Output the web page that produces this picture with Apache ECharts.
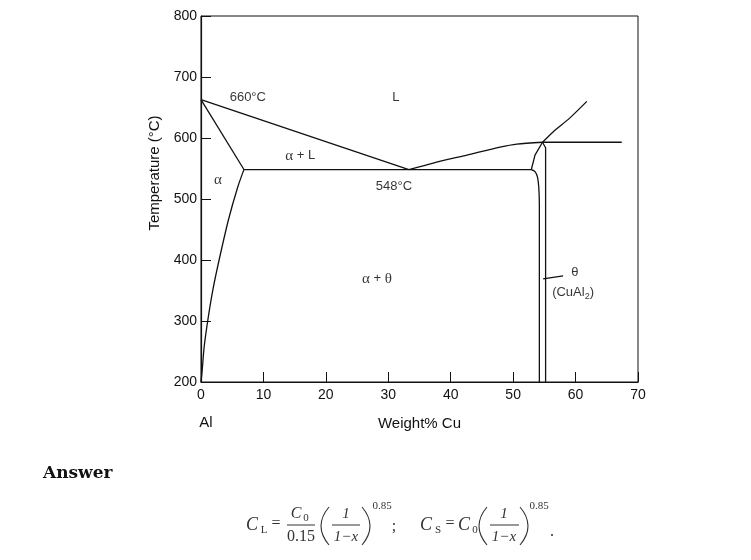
<!DOCTYPE html>
<html>
<head>
<meta charset="utf-8">
<script src="https://cdn.jsdelivr.net/npm/echarts@6/dist/echarts.min.js"></script>
<style>html,body{margin:0;padding:0;background:#fff;}#c{width:751px;height:560px;}</style>
</head>
<body>
<div id="c"></div>
<script>
// ---- data (Weight% Cu, Temperature °C) ----
var xTicks = [0, 10, 20, 30, 40, 50, 60, 70];
var yTicks = [200, 300, 400, 500, 600, 700, 800];
var alphaSolidus   = [[0, 663], [6.9, 548]];
var liquidusLeft   = [[0, 663], [33.3, 548]];
var liquidusRight  = [[33.3, 548], [37.2, 559], [42.6, 572], [47.9, 585], [50.6, 590], [54.7, 593]];
var liquidusUpper  = [[54.7, 593], [56.4, 610], [59.1, 633], [61.8, 660]];
var peritectic     = [[54.7, 593], [67.4, 593]];
var thetaLiquidus  = [[54.7, 593], [53.5, 572], [52.9, 548]];
var eutecticLine   = [[6.9, 548], [52.9, 548]];
var thetaSolvusL   = [[52.9, 548], [53.5, 545], [53.9, 536], [54.1, 520], [54.2, 490], [54.2, 200]];
var thetaSolvusR   = [[54.7, 593], [55.2, 584], [55.2, 200]];
var alphaSolvus    = [[6.9, 549], [5.9, 520], [4.4, 466], [2.9, 400], [1.9, 351], [1.1, 302], [0.5, 257], [0.2, 220], [0, 200]];
var thetaLeader    = [[54.8, 369], [58.0, 374]];
var regionLabels = [
  [7.5, 666, '660°C'],
  [31.2, 667, 'L'],
  [15.9, 571, '{a|α} + L'],
  [2.7, 531, '{a|α}'],
  [30.9, 521, '548°C'],
  [28.2, 369, '{a|α} + {a|θ}'],
  [59.9, 379, 'θ'],
  [59.6, 347, '(CuAl{s|2})']
];

var curves = [alphaSolidus, liquidusLeft, liquidusRight, liquidusUpper, peritectic,
  thetaLiquidus, eutecticLine, thetaSolvusL, thetaSolvusR, alphaSolvus, thetaLeader];

var SANS = '"Liberation Sans", Arial, sans-serif';
var SERIF = '"Liberation Serif", "DejaVu Serif", serif';
var chart = echarts.init(document.getElementById('c'), null, {renderer: 'canvas'});

var series = curves.map(function (d) {
  return {type: 'line', data: d, symbol: 'none', smooth: d.length > 3 ? 0.25 : false,
    lineStyle: {color: '#111', width: 1.3}, silent: true, animation: false};
});
series.push({
  type: 'scatter', symbol: 'circle', symbolSize: 2, animation: false, silent: true,
  itemStyle: {color: 'rgba(0,0,0,0)'},
  labelLayout: {hideOverlap: false},
  data: regionLabels.map(function (r) { return {value: [r[0], r[1]], name: r[2]}; }),
  label: {show: true, position: 'inside', formatter: function (p) { return p.name; },
    color: '#000', fontFamily: SANS, fontSize: 13,
    rich: {a: {fontFamily: SERIF, fontSize: 15, color: '#000'},
           s: {fontFamily: SANS, fontSize: 9, color: '#000', padding: [9, 0, 0, 0]}}}
});

function T(text, x, y, font, extra) {
  var s = {text: text, x: x, y: y, font: font, fill: '#333', textAlign: 'center', textVerticalAlign: 'middle'};
  if (extra) for (var k in extra) s[k] = extra[k];
  return {type: 'text', style: s, silent: true};
}
function L(x1, x2, y) {
  return {type: 'line', shape: {x1: x1, y1: y, x2: x2, y2: y}, style: {stroke: '#333', lineWidth: 1}, silent: true};
}
function Pa(x, cx) {
  return {type: 'bezierCurve', shape: {x1: x, y1: 507, x2: x, y2: 545, cpx1: cx, cpy1: 526},
    style: {stroke: '#333', lineWidth: 1.1, fill: null}, silent: true};
}
var I18 = 'italic 18px ' + SERIF, I15 = 'italic 15px ' + SERIF, R16 = '16px ' + SERIF, R11 = '11px ' + SERIF;

var graphics = [
  {type: 'text', rotation: Math.PI / 2, x: 155, y: 173, silent: true,
   style: {text: 'Temperature (°C)', font: '15px ' + SANS, fill: '#111', textAlign: 'center', textVerticalAlign: 'middle'}},
  T('Al', 206, 423, '15px ' + SANS, {fill: '#111'}),
  T('Answer', 43, 474, 'bold 17px "DejaVu Serif", serif', {fill: '#111', textAlign: 'left'}),
  // formula 1
  T('C', 252, 525, I18), T('L', 264, 530, R11), T('=', 276, 524, R16),
  T('C', 296, 514, 'italic 16px ' + SERIF), T('0', 306, 518, R11), L(287, 315, 525), T('0.15', 301, 537, R16),
  Pa(329, 313), T('1', 346, 514, I15), L(332, 360, 525), T('1−x', 346, 537, I15), Pa(362, 378),
  T('0.85', 382, 506, R11), T(';', 394, 527, R16),
  // formula 2
  T('C', 426, 525, I18), T('S', 438, 530, R11), T('=', 450, 524, R16),
  T('C', 464, 525, I18), T('0', 475, 530, R11),
  Pa(487, 471), T('1', 504, 514, I15), L(490, 519, 525), T('1−x', 504, 537, I15), Pa(520, 536),
  T('0.85', 539, 506, R11), T('.', 552, 532, R16)
];

chart.setOption({
  animation: false,
  grid: {left: 201, right: 113, top: 16, bottom: 178, show: true, borderColor: '#111', borderWidth: 1, containLabel: false},
  xAxis: {type: 'value', min: xTicks[0], max: xTicks[xTicks.length - 1], interval: 10,
    name: 'Weight% Cu', nameLocation: 'middle', nameGap: 34,
    nameTextStyle: {fontFamily: SANS, fontSize: 15, color: '#111'},
    axisLine: {lineStyle: {color: '#111', width: 1.2}},
    axisTick: {inside: true, length: 10, lineStyle: {color: '#111'}},
    axisLabel: {margin: 6, fontFamily: SANS, fontSize: 14, color: '#111'},
    splitLine: {show: false}},
  yAxis: {type: 'value', min: yTicks[0], max: yTicks[yTicks.length - 1], interval: 100,
    axisLine: {show: true, lineStyle: {color: '#111', width: 1.2}},
    axisTick: {show: true, inside: true, length: 10, lineStyle: {color: '#111'}},
    axisLabel: {margin: 4, fontFamily: SANS, fontSize: 14, color: '#111'},
    splitLine: {show: false}},
  series: series,
  graphic: graphics
});
</script>
</body>
</html>
